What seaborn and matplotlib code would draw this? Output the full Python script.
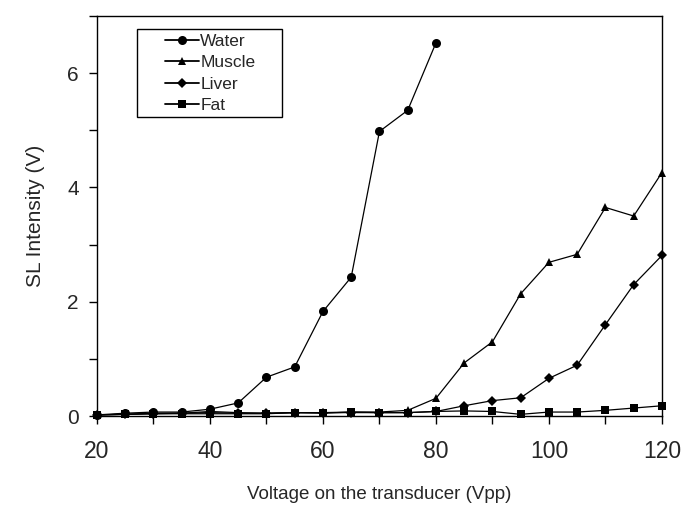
import matplotlib
matplotlib.use("Agg")
import matplotlib.pyplot as plt
import seaborn as sns
import pandas as pd
from matplotlib.ticker import MultipleLocator
from matplotlib.patches import Rectangle

voltage = [20, 25, 30, 35, 40, 45, 50, 55, 60, 65, 70, 75, 80]
voltage_full = [20, 25, 30, 35, 40, 45, 50, 55, 60, 65, 70, 75, 80, 85, 90, 95, 100, 105, 110, 115, 120]

water = [0.02, 0.05, 0.07, 0.07, 0.12, 0.23, 0.68, 0.86, 1.83, 2.43, 4.98, 5.35, 6.53]
muscle = [0.02, 0.03, 0.05, 0.05, 0.08, 0.06, 0.05, 0.06, 0.06, 0.07, 0.07, 0.10, 0.31,
          0.93, 1.30, 2.14, 2.69, 2.83, 3.65, 3.50, 4.26]
liver = [0.02, 0.03, 0.04, 0.05, 0.06, 0.05, 0.05, 0.06, 0.06, 0.06, 0.06, 0.06, 0.08,
         0.18, 0.27, 0.32, 0.66, 0.89, 1.60, 2.30, 2.81]
fat = [0.02, 0.03, 0.04, 0.04, 0.04, 0.04, 0.04, 0.06, 0.05, 0.07, 0.06, 0.06, 0.08,
       0.09, 0.08, 0.03, 0.07, 0.07, 0.10, 0.14, 0.18]

series_names = ["Water", "Muscle", "Liver", "Fat"]

rows = []
for v, y in zip(voltage, water):
    rows.append(("Water", v, y))
for name, vals in (("Muscle", muscle), ("Liver", liver), ("Fat", fat)):
    for v, y in zip(voltage_full, vals):
        rows.append((name, v, y))
df = pd.DataFrame(rows, columns=["Tissue", "Voltage", "Intensity"])

sns.set_style("ticks")
plt.rcParams["font.family"] = ["Liberation Sans", "DejaVu Sans"]

fig = plt.figure(figsize=(6.81, 5.08), dpi=100)
ax = fig.add_axes([0.1424, 0.181, 0.8296, 0.7875])

markers = {"Water": "o", "Muscle": "^", "Liver": "D", "Fat": "s"}
sizes_ms = {"Water": 6.5, "Muscle": 6, "Liver": 5, "Fat": 5.5}
palette = {n: "black" for n in series_names}

sns.lineplot(data=df, x="Voltage", y="Intensity", hue="Tissue", style="Tissue",
             hue_order=series_names, style_order=series_names,
             markers=markers, dashes=False, palette=palette, ax=ax,
             linewidth=0.9, markeredgewidth=0, legend=True, clip_on=False)

for line, name in zip(ax.lines[:4], series_names):
    line.set_markersize(sizes_ms[name])

ax.set_xlim(20, 120)
ax.set_ylim(0, 7)
ax.xaxis.set_major_locator(MultipleLocator(20))
ax.xaxis.set_minor_locator(MultipleLocator(10))
ax.yaxis.set_major_locator(MultipleLocator(2))
ax.yaxis.set_minor_locator(MultipleLocator(1))
ax.tick_params(which="both", direction="out", length=6, width=1, color="black")
ax.tick_params(axis="x", which="major", labelsize=16.5, pad=11)
ax.tick_params(axis="y", which="major", labelsize=15, pad=7)
for s in ax.spines.values():
    s.set_visible(True)
    s.set_linewidth(1.0)
    s.set_color("black")

ax.set_xlabel("Voltage on the transducer (Vpp)", fontsize=13.5, labelpad=17)
ax.set_ylabel("SL Intensity (V)", fontsize=15, labelpad=16)

handles, labels = ax.get_legend_handles_labels()
for h, name in zip(handles, labels):
    if name in sizes_ms:
        h.set_markersize(sizes_ms[name])
        h.set_linewidth(1.3)
leg = ax.legend(handles, labels, loc="upper left", bbox_to_anchor=(0.120, 0.956),
                frameon=False, fontsize=12.5,
                handlelength=1.95, handletextpad=0.1, borderpad=0,
                labelspacing=0.37, borderaxespad=0)

frame = Rectangle((0.0708, 0.7475), 0.327 - 0.0708, 0.9675 - 0.7475,
                  transform=ax.transAxes, fill=False, edgecolor="black",
                  linewidth=1.0, zorder=5)
ax.add_patch(frame)

fig.savefig("out.png", dpi=100)
